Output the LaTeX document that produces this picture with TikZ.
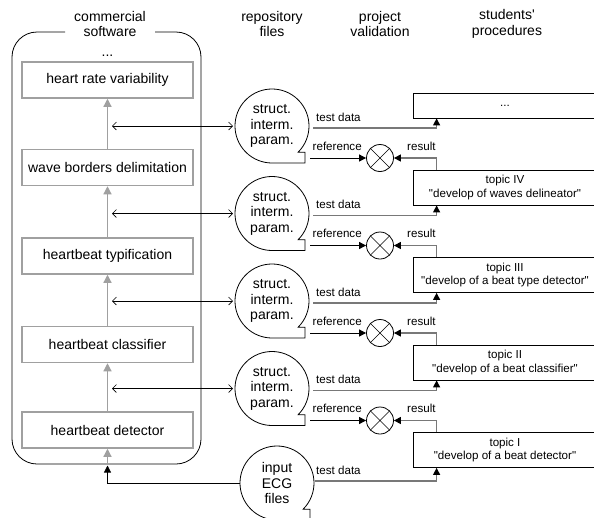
\documentclass[tikz,border=0pt]{standalone}
\usepackage{fontspec}
\setmainfont{Liberation Sans}[Ligatures=TeXOff]
\usetikzlibrary{arrows.meta,calc}
\definecolor{boxgray}{HTML}{A0A0A0}
\definecolor{linegray}{HTML}{787878}
\newcommand\repofile[4]{%
  \node[circle, minimum size=74pt, inner sep=0pt, outer sep=0pt, big, align=center] (#1) at (#2,#3) {#4};
  \draw[thinline] ($(#1.center)+(26.16,-26.16)$) arc[start angle=-45, end angle=270, radius=37pt] -- ++(33,0) -- ++(0,10.84) -- cycle;
}
\newcommand\dq{\symbol{34}}
\begin{document}
\begin{tikzpicture}[x=1pt,y=1pt,
  big/.style={font=\fontsize{14}{15.5}\selectfont},
  small/.style={font=\fontsize{11.6}{13.5}\selectfont},
  thinline/.style={draw=black, line width=0.8pt},
  swbox/.style={draw=boxgray, line width=1.5pt, minimum width=171pt, minimum height=36pt, inner sep=0pt, big},
  topicbox/.style={draw, line width=0.8pt, minimum width=184pt, minimum height=35pt, inner sep=0pt, small, align=center},
  xnode/.style={circle, draw, line width=0.8pt, minimum size=27pt, inner sep=0pt},
  grayarrow/.style={draw=boxgray, line width=1.2pt, -{Triangle[length=8pt,width=8pt]}},
  blackarrow/.style={draw=black, line width=0.8pt, -{Triangle[length=7pt,width=7pt]}},
  testline/.style={draw=linegray, line width=1.2pt, -{Triangle[length=7pt,width=7pt,color=black]}},
  bidir/.style={draw=black, line width=0.6pt, {Straight Barb[length=4pt,width=8pt]}-{Straight Barb[length=4pt,width=8pt]}},
  lab/.style={small, inner sep=0pt, anchor=base west}
]
\useasboundingbox (0,0) rectangle (594,-517);
\clip (0,0) rectangle (594,-517);

% headers
\node[big, align=center] (h1) at (110,-24) {commercial\\software};
\node[big, align=center] (h2) at (272,-24) {repository\\files};
\node[big, align=center] (h3) at (380,-24) {project\\validation};
\node[big, align=center] (h4) at (507,-24) {students\symbol{39}\\procedures};

% outer software frame
\draw[thinline, rounded corners=25pt] (65,-32) -- (12,-32) -- (12,-464) -- (201,-464) -- (201,-32) -- (155,-32);
\node[big, anchor=base] (dots) at (107.5,-56) {...};

% software boxes
\node[swbox] (hrv) at (107.5,-80) {heart rate variability};
\node[swbox] (wbd) at (107.5,-167.5) {wave borders delimitation};
\node[swbox] (typ) at (107.5,-256) {heartbeat typification};
\node[swbox] (cls) at (107.5,-344.5) {heartbeat classifier};
\node[swbox] (det) at (107.5,-430) {heartbeat detector};
\coordinate (swb) at (107.5,-464);
\draw[grayarrow] (wbd.north) -- (hrv.south);
\draw[grayarrow] (typ.north) -- (wbd.south);
\draw[grayarrow] (cls.north) -- (typ.south);
\draw[grayarrow] (det.north) -- (cls.south);
\draw[grayarrow] (swb) -- (det.south);

% students' procedures
\node[topicbox, minimum height=25pt] (t0) at (505,-105.5) {...};
\node[topicbox] (t1) at (505,-187.5) {topic IV\\\dq develop of waves delineator\dq};
\node[topicbox] (t2) at (505,-275) {topic III\\\dq develop of a beat type detector\dq};
\node[topicbox] (t3) at (505,-362.5) {topic II\\\dq develop of a beat classifier\dq};
\node[topicbox] (t4) at (505,-450) {topic I\\\dq develop of a beat detector\dq};

% repository rows
\foreach \k/\yy in {1/126,2/213.5,3/301,4/388.5} {
  \pgfmathtruncatemacro\km{\k-1}
  \repofile{rep\k}{272}{-\yy}{struct.\\interm.\\param.}
  \coordinate (bl\k) at (112,-\yy);
  \draw[bidir] (bl\k) -- ($(rep\k.west)+(-2,0)$);
  \node[xnode] (ox\k) at (380,-\yy-32) {};
  \draw[line width=0.6pt] (ox\k.45) -- (ox\k.225) (ox\k.135) -- (ox\k.315);
  \draw[testline] ($(rep\k.east)+(4,-2)$) -| ($(t\km.south west)+(24,0)$);
  \coordinate (rs\k) at (310,-\yy-32);
  \draw[blackarrow] (rs\k) -- (ox\k.west);
  \draw[testline] ($(t\k.north west)+(24,0)$) |- (ox\k.east);
  \node[lab] at (316,-\yy+5) {test data};
  \node[lab] at (312.5,-\yy-24) {reference};
  \node[lab] at (407,-\yy-24) {result};
}

% input ECG files
\repofile{ecg}{277}{-483}{input\\ECG\\files}
\draw[testline] ($(ecg.east)+(1,2)$) -| ($(t4.south west)+(24,0)$);
\node[lab] at (316,-474) {test data};
\coordinate (inp) at (107.5,-465.5);
\draw[blackarrow] (ecg.west) -| (inp);
\end{tikzpicture}
\end{document}
